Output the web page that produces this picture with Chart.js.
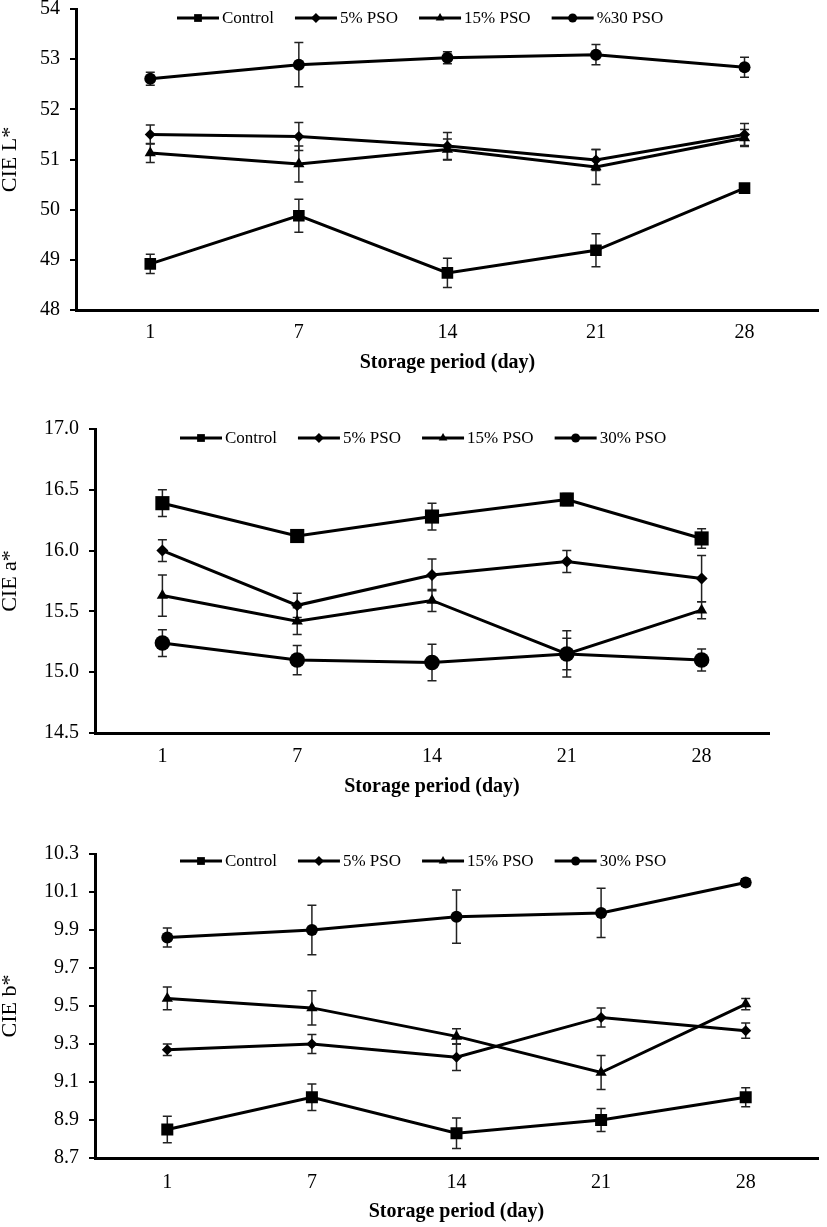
<!DOCTYPE html>
<html>
<head>
<meta charset="utf-8">
<script src="https://cdn.jsdelivr.net/npm/chart.js@4/dist/chart.umd.min.js"></script>
<style>
  body { margin: 0; background: #fff; width: 827px; height: 1227px; overflow: hidden; position: relative; }
  canvas { position: absolute; left: 0; }
</style>
</head>
<body>
<canvas id="chartL" width="827" height="391" style="top:-13px"></canvas>
<canvas id="chartA" width="827" height="396" style="top:407px"></canvas>
<canvas id="chartB" width="827" height="395" style="top:832px"></canvas>
<script>
// storage days (x categories)
var days = ['1', '7', '14', '21', '28'];

var namesL = ['Control', '5% PSO', '15% PSO', '%30 PSO'];
var names = ['Control', '5% PSO', '15% PSO', '30% PSO'];

// CIE L*
var lControl = [48.92, 49.88, 48.74, 49.19, 50.43];
var lPso5 = [51.50, 51.46, 51.27, 50.99, 51.50];
var lPso15 = [51.13, 50.91, 51.20, 50.85, 51.43];
var lPso30 = [52.61, 52.89, 53.03, 53.09, 52.84];
var lControlErr = [0.19, 0.33, 0.29, 0.33, 0.05];
var lPso5Err = [0.19, 0.28, 0.27, 0.21, 0.22];
var lPso15Err = [0.19, 0.36, 0.21, 0.35, 0.17];
var lPso30Err = [0.13, 0.44, 0.12, 0.20, 0.20];

// CIE a*
var aControl = [16.39, 16.12, 16.28, 16.42, 16.10];
var aPso5 = [16.00, 15.55, 15.80, 15.91, 15.77];
var aPso15 = [15.63, 15.42, 15.59, 15.15, 15.51];
var aPso30 = [15.24, 15.10, 15.08, 15.15, 15.10];
var aControlErr = [0.11, 0.03, 0.11, 0.05, 0.08];
var aPso5Err = [0.09, 0.10, 0.13, 0.09, 0.19];
var aPso15Err = [0.17, 0.11, 0.09, 0.13, 0.07];
var aPso30Err = [0.11, 0.12, 0.15, 0.19, 0.09];

// CIE b*
var bControl = [8.85, 9.02, 8.83, 8.90, 9.02];
var bPso5 = [9.27, 9.30, 9.23, 9.44, 9.37];
var bPso15 = [9.54, 9.49, 9.34, 9.15, 9.51];
var bPso30 = [9.86, 9.90, 9.97, 9.99, 10.15];
var bControlErr = [0.07, 0.07, 0.08, 0.06, 0.05];
var bPso5Err = [0.03, 0.05, 0.07, 0.05, 0.04];
var bPso15Err = [0.06, 0.09, 0.04, 0.09, 0.03];
var bPso30Err = [0.05, 0.13, 0.14, 0.13, 0.02];

var markers = ['rect', 'rectRot', 'triangle', 'circle'];
var legendRadii = [5.5, 5, 5, 4.5];
var serif = "'Liberation Serif', 'Times New Roman', serif";

// error bars drawn under the markers
var errorBarPlugin = {
    id: 'errorBars',
    beforeDatasetsDraw: function(chart) {
        var ctx = chart.ctx;
        var yScale = chart.scales.y;
        ctx.save();
        ctx.strokeStyle = '#222';
        ctx.lineWidth = 1.5;
        chart.data.datasets.forEach(function(ds, di) {
            var meta = chart.getDatasetMeta(di);
            ds.errorBars.forEach(function(err, i) {
                var x = meta.data[i].x;
                var top = yScale.getPixelForValue(ds.data[i] + err);
                var bot = yScale.getPixelForValue(ds.data[i] - err);
                ctx.beginPath();
                ctx.moveTo(x, top); ctx.lineTo(x, bot);
                ctx.moveTo(x - 4.5, top); ctx.lineTo(x + 4.5, top);
                ctx.moveTo(x - 4.5, bot); ctx.lineTo(x + 4.5, bot);
                ctx.stroke();
            });
        });
        ctx.restore();
    }
};

// legend in the style of the original: short line with the marker in its middle
var lineLegendPlugin = {
    id: 'lineLegend',
    afterDraw: function(chart, args, opts) {
        var ctx = chart.ctx;
        var x = opts.x;
        var y = opts.y;
        ctx.save();
        ctx.font = '17px ' + serif;
        ctx.textBaseline = 'middle';
        chart.data.datasets.forEach(function(ds, i) {
            ctx.strokeStyle = '#000';
            ctx.fillStyle = '#000';
            ctx.lineWidth = 3;
            ctx.beginPath();
            ctx.moveTo(x, y); ctx.lineTo(x + 42, y);
            ctx.stroke();
            Chart.helpers.drawPoint(ctx, {pointStyle: markers[i], radius: legendRadii[i], rotation: 0, borderWidth: 0}, x + 21, y);
            ctx.fillText(ds.label, x + 45, y + 1);
            x += 45 + ctx.measureText(ds.label).width + 21;
        });
        ctx.restore();
    }
};

function buildSets(labels, values, errors, radii) {
    return labels.map(function(name, i) {
        return {
            label: name,
            data: values[i],
            errorBars: errors[i],
            borderColor: '#000',
            backgroundColor: '#000',
            borderWidth: 3,
            tension: 0,
            pointStyle: markers[i],
            pointRadius: radii[i],
            pointBackgroundColor: '#000',
            pointBorderColor: '#000',
            pointBorderWidth: 0
        };
    });
}

function makeChart(id, cfg) {
    var ctx = document.getElementById(id).getContext('2d');
    return new Chart(ctx, {
        type: 'line',
        data: { labels: days, datasets: buildSets(cfg.labels, cfg.values, cfg.errors, cfg.radii) },
        plugins: [errorBarPlugin, lineLegendPlugin],
        options: {
            responsive: false,
            animation: false,
            layout: { padding: { top: 20, left: 0, right: cfg.padRight, bottom: 0 } },
            plugins: {
                legend: { display: false },
                tooltip: { enabled: false },
                lineLegend: { x: cfg.legendX, y: cfg.legendY }
            },
            scales: {
                x: {
                    type: 'category',
                    offset: true,
                    afterFit: function(scale) { scale.height = cfg.xHeight; },
                    grid: { display: false, drawTicks: false },
                    border: { display: true, color: '#000', width: 3 },
                    ticks: { color: '#000', padding: cfg.xTickPad, font: { family: serif, size: 20 } },
                    title: {
                        display: true,
                        text: 'Storage period (day)',
                        color: '#000',
                        font: { family: serif, size: 20, weight: 'bold' },
                        padding: { top: 0, bottom: cfg.xTitlePad }
                    }
                },
                y: {
                    min: cfg.yMin,
                    max: cfg.yMax,
                    afterFit: function(scale) { scale.width = cfg.yWidth; },
                    grid: { display: true, drawOnChartArea: false, drawTicks: true, tickLength: 6, color: '#000', lineWidth: 2 },
                    border: { display: true, color: '#000', width: 3 },
                    ticks: {
                        stepSize: cfg.step,
                        color: '#000',
                        padding: 10,
                        font: { family: serif, size: 20 },
                        callback: function(v) { return Number(v).toFixed(cfg.decimals); }
                    },
                    title: {
                        display: true,
                        text: cfg.yTitle,
                        color: '#000',
                        font: { family: serif, size: 22, lineHeight: 0.9 },
                        padding: { top: 0, bottom: 0 }
                    }
                }
            }
        }
    });
}

makeChart('chartL', {
    labels: namesL,
    values: [lControl, lPso5, lPso15, lPso30],
    errors: [lControlErr, lPso5Err, lPso15Err, lPso30Err],
    radii: [8.2, 5.5, 6.5, 6],
    yMin: 48, yMax: 54, step: 1, decimals: 0, yTitle: 'CIE L*',
    yWidth: 76, padRight: 1, xHeight: 68, xTickPad: 11, xTitlePad: 3,
    legendX: 177, legendY: 31
});

makeChart('chartA', {
    labels: names,
    values: [aControl, aPso5, aPso15, aPso30],
    errors: [aControlErr, aPso5Err, aPso15Err, aPso30Err],
    radii: [10, 6, 6.5, 7.8],
    yMin: 14.5, yMax: 17, step: 0.5, decimals: 1, yTitle: 'CIE a*',
    yWidth: 95, padRight: 58, xHeight: 70, xTickPad: 12, xTitlePad: 4,
    legendX: 180, legendY: 31
});

makeChart('chartB', {
    labels: names,
    values: [bControl, bPso5, bPso15, bPso30],
    errors: [bControlErr, bPso5Err, bPso15Err, bPso30Err],
    radii: [8.5, 5.5, 6.5, 6],
    yMin: 8.7, yMax: 10.3, step: 0.2, decimals: 1, yTitle: 'CIE b*',
    yWidth: 95, padRight: 9, xHeight: 69, xTickPad: 13, xTitlePad: 3,
    legendX: 180, legendY: 29
});
</script>
</body>
</html>
